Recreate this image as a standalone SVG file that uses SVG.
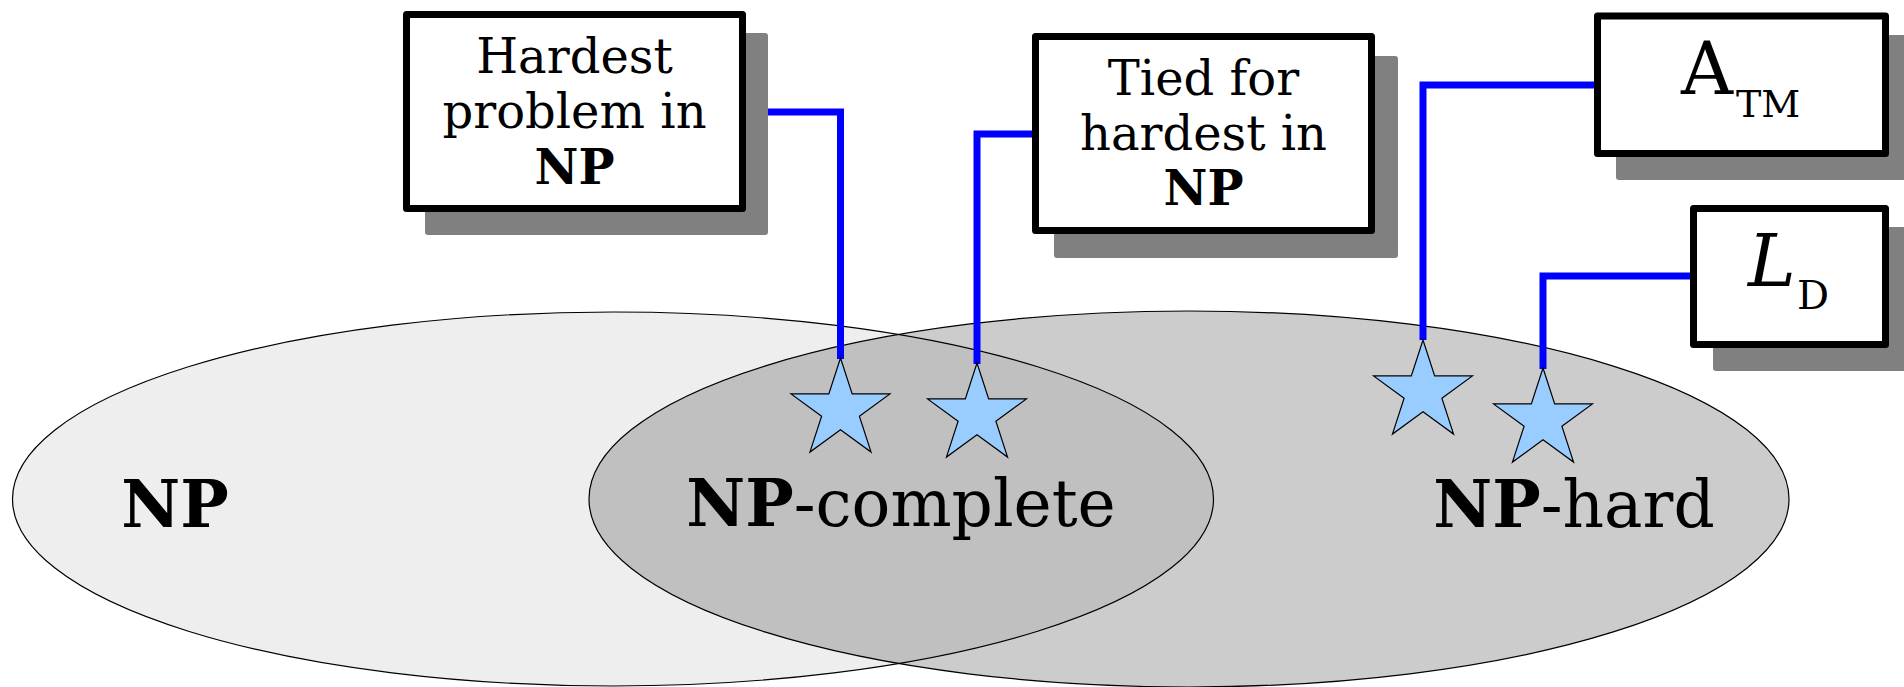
<svg xmlns="http://www.w3.org/2000/svg" xmlns:xlink="http://www.w3.org/1999/xlink" width="1904" height="687" viewBox="0 0 1904 687">
<style>
  .ell { stroke: #000; stroke-width: 1.2; }
  .box { fill: #fff; stroke: #000; stroke-width: 7; stroke-linejoin: round; }
  .shadow { fill: #808080; }
  .conn { fill: none; stroke: #0000ff; stroke-width: 7; stroke-linejoin: miter; }
  .star { fill: #99ccff; stroke: #000; stroke-width: 1.2; stroke-linejoin: miter; }
  text { font-family: "DejaVu Serif", "Liberation Serif", serif; fill: #000; }
  .lbl { font-size: 64.5px; text-anchor: middle; }
  .bt { font-size: 48px; text-anchor: middle; }
  .b { font-weight: bold; }
</style>
<defs>
  <polygon id="starShape" points="0,-52 11.67,-16.07 49.45,-16.07 18.89,6.14 30.56,42.07 0,19.86 -30.56,42.07 -18.89,6.14 -49.45,-16.07 -11.67,-16.07"/>
  <clipPath id="npClip">
    <ellipse cx="613" cy="499" rx="600.5" ry="187"/>
  </clipPath>
</defs>

<g id="sets">
  <ellipse id="np-set" cx="613" cy="499" rx="600.5" ry="187" fill="#eeeeee"/>
  <ellipse id="nphard-set" cx="1189" cy="499" rx="600" ry="188" fill="#cccccc"/>
  <ellipse cx="1189" cy="499" rx="600" ry="188" fill="#c0c0c0" clip-path="url(#npClip)"/>
  <ellipse class="ell" cx="613" cy="499" rx="600.5" ry="187" fill="none"/>
  <ellipse class="ell" cx="1189" cy="499" rx="600" ry="188" fill="none"/>
  <text class="lbl b" x="175" y="527">NP</text>
  <text class="lbl" x="901" y="526"><tspan class="b">NP</tspan>-complete</text>
  <text class="lbl" x="1574" y="527"><tspan class="b">NP</tspan>-hard</text>
</g>

<g id="connectors">
  <polyline class="conn" points="746,112 840.5,112 840.5,359"/>
  <polyline class="conn" points="1032,134 977,134 977,364"/>
  <polyline class="conn" points="1594,85 1423,85 1423,340"/>
  <polyline class="conn" points="1690,276 1543,276 1543,369"/>
</g>

<g id="star1"><use xlink:href="#starShape" href="#starShape" class="star" transform="translate(840.5,410)"/></g>
<g id="star2"><use xlink:href="#starShape" href="#starShape" class="star" transform="translate(977,415)"/></g>
<g id="star3"><use xlink:href="#starShape" href="#starShape" class="star" transform="translate(1423,392)"/></g>
<g id="star4"><use xlink:href="#starShape" href="#starShape" class="star" transform="translate(1543,420)"/></g>

<g id="box-hardest">
  <rect class="shadow" x="425" y="33" width="343" height="202" rx="3"/>
  <rect class="box" x="406.5" y="14.5" width="336" height="194"/>
  <text class="bt" x="574.5" y="73">Hardest</text>
  <text class="bt" x="574.5" y="128">problem in</text>
  <text class="bt b" x="574.5" y="184">NP</text>
</g>

<g id="box-tied">
  <rect class="shadow" x="1054" y="56" width="344" height="202" rx="3"/>
  <rect class="box" x="1035.5" y="36.5" width="336" height="194"/>
  <text class="bt" x="1203.5" y="95">Tied for</text>
  <text class="bt" x="1203.5" y="150">hardest in</text>
  <text class="bt b" x="1203.5" y="205">NP</text>
</g>

<g id="box-atm">
  <rect class="shadow" x="1616" y="35" width="295" height="145" rx="3"/>
  <rect class="box" x="1597.5" y="16" width="288" height="137.5"/>
  <text x="1681" y="94" font-size="72">A<tspan x="1736" y="117" font-size="38">TM</tspan></text>
</g>

<g id="box-ld">
  <rect class="shadow" x="1713" y="227" width="200" height="144" rx="3"/>
  <rect class="box" x="1693.5" y="208.5" width="192" height="136"/>
  <text x="1748" y="286" font-size="72" font-style="italic">L<tspan x="1797" y="309" font-size="40" font-style="normal">D</tspan></text>
</g>
</svg>
